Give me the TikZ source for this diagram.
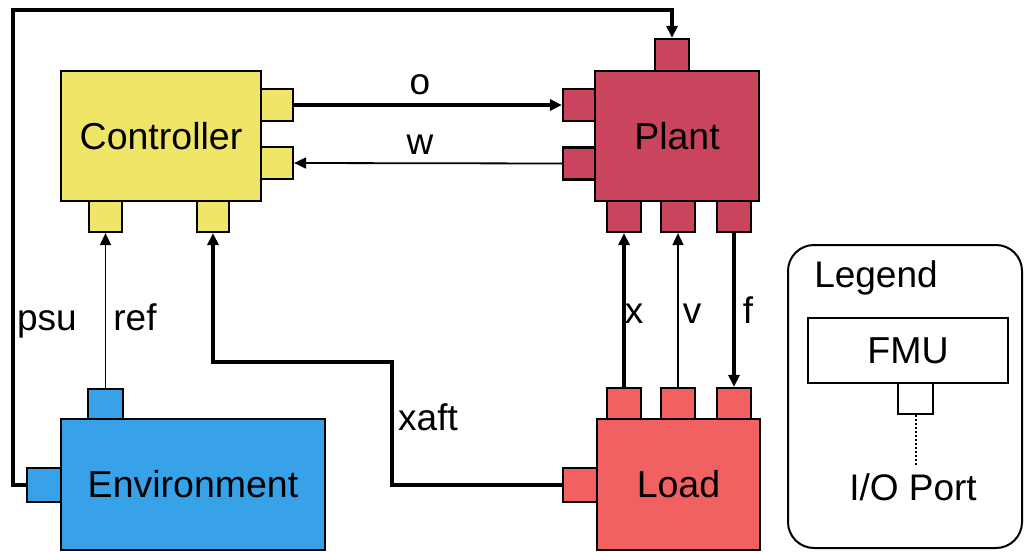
\documentclass[tikz,border=0pt]{standalone}
\usepackage{fontspec}
\setmainfont{Liberation Sans}
\usetikzlibrary{arrows.meta}
\definecolor{ctrlc}{HTML}{EFE566}
\definecolor{plantc}{HTML}{C9445C}
\definecolor{loadc}{HTML}{F26161}
\definecolor{envc}{HTML}{37A2E8}
\tikzset{
  fmubox/.style={draw=black, line width=2.2pt, inner sep=0pt, font=\fontsize{37.5}{44}\selectfont},
  ioport/.style={draw=black, line width=2.2pt, inner sep=0pt},
  thickwire/.style={line width=3.2pt, -{Triangle[length=12pt,width=11pt]}},
  thinwire/.style={line width=1.8pt, -{Triangle[length=12pt,width=11pt]}},
  lbl/.style={font=\fontsize{37}{44}\selectfont, inner sep=0pt}
}
\begin{document}
\begin{tikzpicture}[x=1pt,y=-1pt]
\useasboundingbox (0,0) rectangle (1024,551);
% Controller
\node[fmubox, fill=ctrlc, minimum width=200pt, minimum height=130pt] (ctrl) at (161,136) {Controller};
\node[ioport, fill=ctrlc, minimum width=32pt, minimum height=32pt] (co) at (277,105) {};
\node[ioport, fill=ctrlc, minimum width=32pt, minimum height=32pt] (cw) at (277,163) {};
\node[ioport, fill=ctrlc, minimum width=33pt, minimum height=31pt] (cref) at (105.5,216.5) {};
\node[ioport, fill=ctrlc, minimum width=32pt, minimum height=31pt] (cxaft) at (213,216.5) {};
% Plant
\node[fmubox, fill=plantc, minimum width=164pt, minimum height=130pt] (plant) at (677,136) {Plant};
\node[ioport, fill=plantc, minimum width=34pt, minimum height=32pt] (ppsu) at (672,55) {};
\node[ioport, fill=plantc, minimum width=32pt, minimum height=32pt] (po) at (579,105) {};
\node[ioport, fill=plantc, minimum width=32pt, minimum height=32pt] (pw) at (579,163.5) {};
\node[ioport, fill=plantc, minimum width=34pt, minimum height=31pt] (px) at (624,216.5) {};
\node[ioport, fill=plantc, minimum width=34pt, minimum height=31pt] (pv) at (678,216.5) {};
\node[ioport, fill=plantc, minimum width=34pt, minimum height=31pt] (pf) at (734,216.5) {};
% Load
\node[fmubox, fill=loadc, minimum width=163pt, minimum height=131pt] (load) at (678.5,484.5) {Load};
\node[ioport, fill=loadc, minimum width=34pt, minimum height=31pt] (lx) at (624,403.5) {};
\node[ioport, fill=loadc, minimum width=34pt, minimum height=31pt] (lv) at (678,403.5) {};
\node[ioport, fill=loadc, minimum width=34pt, minimum height=31pt] (lf) at (734,403.5) {};
\node[ioport, fill=loadc, minimum width=34pt, minimum height=34pt] (lxaft) at (580,485) {};
% Environment
\node[fmubox, fill=envc, minimum width=264pt, minimum height=131pt] (env) at (193,484.5) {Environment};
\node[ioport, fill=envc, minimum width=35pt, minimum height=30pt] (eref) at (105.5,404) {};
\node[ioport, fill=envc, minimum width=34pt, minimum height=34pt] (epsu) at (44,485) {};
% Wires
\coordinate (psuA) at (13,485);
\coordinate (psuB) at (13,10);
\coordinate (psuC) at (672,10);
\draw[thickwire] (epsu.west) -- (psuA) -- (psuB) -- (psuC) -- (ppsu.north);
\draw[thickwire] (co.east) -- (po.west);
\draw[thinwire] (pw.west) -- (cw.east);
\draw[thinwire] (eref.north) -- (cref.south);
\coordinate (xa) at (392,485);
\coordinate (xb) at (392,362);
\coordinate (xc) at (213,362);
\draw[thickwire] (lxaft.west) -- (xa) -- (xb) -- (xc) -- (cxaft.south);
\draw[thickwire] (lx.north) -- (px.south);
\draw[thinwire] (lv.north) -- (pv.south);
\draw[thickwire] (pf.south) -- (lf.north);
% Labels
\node[lbl] (lo) at (420,85) {o};
\node[lbl] (lw) at (420,145) {w};
\node[lbl, anchor=base] (lpsu) at (47,330) {psu};
\node[lbl, anchor=base] (lref) at (135,330) {ref};
\node[lbl, anchor=base] (lxaftt) at (428,430) {xaft};
\node[lbl, anchor=base] (llx) at (634,323) {x};
\node[lbl, anchor=base] (llv) at (692,323) {v};
\node[lbl, anchor=base] (llf) at (748,323) {f};
% Legend
\draw[line width=2pt, rounded corners=26pt] (788,245) rectangle (1022,548);
\node[lbl, anchor=base] (legt) at (876,287) {Legend};
\node[fmubox, fill=white, minimum width=200pt, minimum height=65pt] (legfmu) at (908,350.5) {FMU};
\node[ioport, fill=white, minimum width=35pt, minimum height=31pt] (legport) at (915.5,398.5) {};
\node[lbl, anchor=base] (legio) at (913,500) {I/O Port};
\coordinate (legdot) at (915.5,465);
\draw[line width=2pt, dotted] (legport.south) -- (legdot);
\end{tikzpicture}
\end{document}
